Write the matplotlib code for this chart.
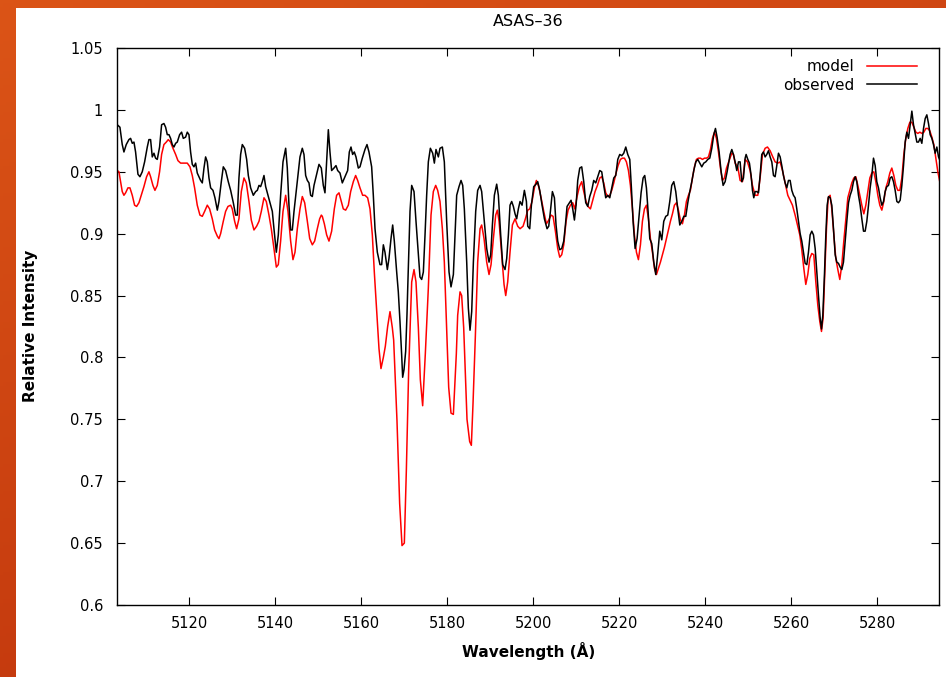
import numpy as np
import matplotlib
matplotlib.use('Agg')
import matplotlib.pyplot as plt
from matplotlib.patches import Rectangle

# observed spectrum (black)
obs_wavelength = [
    5103.26, 5103.88, 5104.42, 5104.81, 5105.35, 5105.97, 5106.36, 5106.75, 5107.14, 5107.52,
    5108.07, 5108.53, 5109.07, 5109.62, 5110.24, 5110.62, 5111.01, 5111.40, 5111.79, 5112.17,
    5112.56, 5113.10, 5113.57, 5114.11, 5114.50, 5114.89, 5115.28, 5115.66, 5116.05, 5116.44,
    5116.83, 5117.21, 5117.76, 5118.22, 5118.61, 5119.15, 5119.54, 5119.93, 5120.31, 5120.70,
    5121.09, 5121.48, 5121.86, 5122.25, 5122.64, 5123.03, 5123.42, 5123.80, 5124.19, 5124.58,
    5124.97, 5125.51, 5125.97, 5126.52, 5126.90, 5127.45, 5127.91, 5128.45, 5129.07, 5129.62,
    5130.24, 5130.78, 5131.17, 5131.55, 5131.94, 5132.33, 5132.87, 5133.34, 5133.73, 5134.27,
    5134.89, 5135.43, 5135.82, 5136.21, 5136.59, 5136.98, 5137.37, 5137.76, 5138.30, 5138.92,
    5139.31, 5139.69, 5140.24, 5140.70, 5141.24, 5141.79, 5142.41, 5142.79, 5143.18, 5143.57,
    5143.96, 5144.35, 5145.12, 5145.74, 5146.28, 5146.67, 5147.06, 5147.45, 5147.83, 5148.22,
    5148.61, 5149.00, 5149.54, 5150.16, 5150.70,
    5151.16, 5151.55, 5151.94, 5152.33, 5152.71, 5153.10, 5153.64, 5154.11, 5154.50, 5155.04,
    5155.58, 5156.20, 5156.82, 5157.21, 5157.60, 5157.98, 5158.37, 5158.76, 5159.30, 5159.69,
    5160.23, 5160.85, 5161.32, 5161.78, 5162.40, 5162.79, 5163.18, 5163.72, 5164.34, 5164.73,
    5165.12, 5165.50, 5166.05, 5166.43, 5166.90, 5167.29, 5167.67, 5168.22, 5168.60, 5168.99,
    5169.38, 5169.61, 5169.92, 5170.31, 5170.62, 5170.78, 5171.32, 5171.71, 5172.25, 5172.71,
    5173.26, 5173.64, 5174.03, 5174.42, 5174.81, 5175.19, 5175.58, 5176.05, 5176.59, 5176.98,
    5177.36, 5177.91, 5178.29, 5178.84, 5179.30, 5179.84, 5180.39, 5180.85, 5181.40, 5181.78,
    5182.17, 5182.71, 5183.18, 5183.57, 5183.95, 5184.50, 5184.88, 5185.27, 5185.66, 5186.05,
    5186.59, 5187.05, 5187.60, 5187.98, 5188.53, 5189.15, 5189.69, 5190.08, 5190.47, 5190.93,
    5191.47, 5191.86, 5192.40, 5192.87, 5193.41, 5193.80, 5194.19, 5194.57, 5194.96, 5195.35,
    5195.74, 5196.12, 5196.51, 5196.90,
    5197.37, 5197.91, 5198.38, 5198.69, 5199.15, 5199.54, 5200.08, 5200.62, 5201.01, 5201.48,
    5202.02, 5202.56, 5203.18, 5203.57, 5203.96, 5204.42, 5204.89, 5205.27, 5205.66, 5206.13,
    5206.59, 5207.06, 5207.45, 5207.83, 5208.38, 5208.76, 5209.15, 5209.54, 5209.93, 5210.31,
    5210.78, 5211.24, 5211.71, 5212.17, 5212.64, 5213.10, 5213.57, 5214.03, 5214.50, 5214.96,
    5215.43, 5215.89, 5216.36, 5216.82, 5217.29, 5217.76, 5218.22, 5218.69, 5219.15, 5219.62,
    5220.08, 5220.55, 5221.01, 5221.48, 5221.94, 5222.41, 5222.79, 5223.18, 5223.65, 5224.11,
    5224.58, 5225.04, 5225.51, 5225.89, 5226.28, 5226.67, 5227.06, 5227.52, 5227.99, 5228.45,
    5228.92, 5229.38, 5229.85, 5230.31, 5230.78, 5231.24, 5231.71, 5232.17, 5232.64, 5233.10,
    5233.57, 5234.04, 5234.50, 5234.97, 5235.43, 5235.90, 5236.36, 5236.83, 5237.29, 5237.76,
    5238.22, 5238.69, 5239.15, 5239.62, 5240.08, 5240.55, 5241.01, 5241.48, 5241.94, 5242.33,
    5242.71, 5243.18, 5243.65, 5244.11, 5244.58, 5245.04,
    5245.74, 5246.13, 5246.51, 5246.90, 5247.29, 5247.68, 5248.06, 5248.45, 5248.84, 5249.23,
    5249.46, 5249.85, 5250.23, 5250.62, 5250.93, 5251.24, 5251.55, 5251.94, 5252.33, 5252.71,
    5253.10, 5253.49, 5253.88, 5254.26, 5254.65, 5255.04, 5255.43, 5255.82, 5256.20, 5256.59,
    5256.98, 5257.37, 5257.75, 5258.14, 5258.53, 5258.92, 5259.30, 5259.69, 5260.08, 5260.47,
    5260.85, 5261.24, 5261.63, 5262.02, 5262.40, 5262.79, 5263.18, 5263.57, 5263.95, 5264.34,
    5264.73, 5265.12, 5265.51, 5265.89, 5266.28, 5266.67, 5266.98, 5267.29, 5267.67, 5267.99,
    5268.30, 5268.61, 5268.99, 5269.38, 5269.77, 5270.16, 5270.54, 5270.93, 5271.32, 5271.71,
    5272.09, 5272.48, 5272.87, 5273.26, 5273.64, 5274.03, 5274.42, 5274.81, 5275.19, 5275.58,
    5275.97, 5276.36, 5276.75, 5277.13, 5277.52, 5277.91, 5278.29, 5278.68, 5279.07, 5279.46,
    5279.84, 5280.23, 5280.62, 5281.01, 5281.40, 5281.78, 5282.17, 5282.56, 5282.95, 5283.33,
    5283.72, 5284.11, 5284.50, 5284.88, 5285.27, 5285.66, 5286.05, 5286.43, 5286.82, 5287.21,
    5287.60, 5287.99, 5288.37, 5288.76, 5289.15, 5289.53, 5289.92, 5290.31, 5290.70, 5291.09,
    5291.47, 5291.86, 5292.25, 5292.64, 5293.02, 5293.41, 5293.80, 5294.19, 5294.65,
]
obs_intensity = [
    0.988, 0.986, 0.972, 0.966, 0.972, 0.976, 0.977, 0.973, 0.974, 0.966,
    0.948, 0.946, 0.950, 0.958, 0.970, 0.976, 0.976, 0.962, 0.965, 0.961,
    0.960, 0.970, 0.988, 0.989, 0.986, 0.980, 0.980, 0.977, 0.972, 0.970,
    0.973, 0.974, 0.980, 0.982, 0.977, 0.978, 0.982, 0.980, 0.966, 0.956,
    0.954, 0.957, 0.949, 0.946, 0.943, 0.941, 0.953, 0.962, 0.958, 0.945,
    0.937, 0.935, 0.929, 0.919, 0.926, 0.942, 0.954, 0.951, 0.942, 0.935,
    0.925, 0.915, 0.915, 0.945, 0.964, 0.972, 0.969, 0.960, 0.947, 0.937,
    0.931, 0.934, 0.935, 0.939, 0.938, 0.942, 0.947, 0.938, 0.931, 0.923,
    0.918, 0.904, 0.885, 0.899, 0.931, 0.958, 0.969, 0.953, 0.923, 0.903,
    0.903, 0.918, 0.942, 0.962, 0.969, 0.964, 0.947, 0.943, 0.941, 0.931,
    0.930, 0.939, 0.947, 0.956, 0.953,
    0.939, 0.933, 0.958, 0.984, 0.966, 0.951, 0.953, 0.955, 0.951, 0.949,
    0.941, 0.946, 0.951, 0.966, 0.970, 0.964, 0.966, 0.962, 0.953, 0.954,
    0.961, 0.968, 0.972, 0.966, 0.954, 0.931, 0.904, 0.885, 0.875, 0.875,
    0.891, 0.885, 0.871, 0.880, 0.896, 0.907, 0.894, 0.869, 0.853, 0.829,
    0.802, 0.784, 0.790, 0.805, 0.835, 0.855, 0.918, 0.939, 0.934, 0.910,
    0.883, 0.865, 0.863, 0.869, 0.899, 0.931, 0.958, 0.969, 0.965, 0.957,
    0.968, 0.962, 0.969, 0.970, 0.958, 0.910, 0.869, 0.857, 0.867, 0.899,
    0.931, 0.938, 0.943, 0.939, 0.920, 0.877, 0.840, 0.822, 0.837, 0.877,
    0.918, 0.935, 0.939, 0.934, 0.912, 0.888, 0.877, 0.883, 0.907, 0.931,
    0.940, 0.931, 0.899, 0.875, 0.871, 0.880, 0.899, 0.923, 0.926, 0.922,
    0.916, 0.912, 0.920, 0.926,
    0.923, 0.935, 0.926, 0.906, 0.904, 0.923, 0.938, 0.940, 0.942, 0.935,
    0.923, 0.912, 0.904, 0.906, 0.918, 0.934, 0.929, 0.907, 0.894, 0.887,
    0.888, 0.894, 0.907, 0.922, 0.925, 0.927, 0.920, 0.911, 0.923, 0.943,
    0.953, 0.954, 0.942, 0.925, 0.922, 0.930, 0.935, 0.943, 0.941, 0.946,
    0.951, 0.950, 0.939, 0.929, 0.931, 0.929, 0.937, 0.945, 0.947, 0.960,
    0.964, 0.963, 0.965, 0.970, 0.964, 0.960, 0.937, 0.910, 0.888, 0.896,
    0.915, 0.933, 0.945, 0.947, 0.937, 0.918, 0.896, 0.892, 0.877, 0.867,
    0.884, 0.902, 0.895, 0.910, 0.914, 0.915, 0.926, 0.939, 0.942, 0.934,
    0.920, 0.907, 0.910, 0.914, 0.914, 0.925, 0.934, 0.942, 0.951, 0.958,
    0.960, 0.957, 0.954, 0.957, 0.958, 0.960, 0.961, 0.969, 0.980, 0.985,
    0.978, 0.966, 0.950, 0.939, 0.942, 0.950,
    0.964, 0.968, 0.964, 0.958, 0.951, 0.958, 0.958, 0.942, 0.945, 0.961,
    0.964, 0.960, 0.957, 0.947, 0.935, 0.929, 0.934, 0.934, 0.933, 0.947,
    0.964, 0.966, 0.962, 0.964, 0.967, 0.962, 0.958, 0.947, 0.946, 0.955,
    0.965, 0.962, 0.955, 0.947, 0.941, 0.937, 0.943, 0.943, 0.935, 0.931,
    0.929, 0.920, 0.910, 0.900, 0.894, 0.885, 0.876, 0.875, 0.885, 0.899,
    0.902, 0.899, 0.888, 0.869, 0.850, 0.832, 0.823, 0.834, 0.867, 0.899,
    0.923, 0.930, 0.929, 0.923, 0.904, 0.883, 0.877, 0.876, 0.873, 0.871,
    0.877, 0.894, 0.910, 0.925, 0.931, 0.935, 0.942, 0.946, 0.942, 0.931,
    0.923, 0.912, 0.902, 0.902, 0.910, 0.923, 0.937, 0.947, 0.961, 0.955,
    0.942, 0.937, 0.929, 0.923, 0.926, 0.934, 0.938, 0.939, 0.945, 0.946,
    0.942, 0.935, 0.926, 0.925, 0.927, 0.939, 0.955, 0.974, 0.982, 0.977,
    0.988, 0.999, 0.988, 0.981, 0.974, 0.974, 0.977, 0.973, 0.985, 0.993,
    0.996, 0.989, 0.980, 0.977, 0.972, 0.965, 0.970, 0.962, 0.958,
]

# synthetic model spectrum (red)
model_wavelength = [
    5103.26, 5103.65, 5104.04, 5104.42, 5104.81, 5105.20, 5105.74, 5106.21, 5106.75, 5107.29,
    5107.76, 5108.30, 5108.84, 5109.46, 5110.08, 5110.62, 5111.01, 5111.55, 5112.02, 5112.56,
    5113.10, 5113.57, 5114.11, 5114.66, 5115.12, 5115.66, 5116.21, 5116.83, 5117.37, 5117.99,
    5118.76, 5119.54, 5120.16, 5120.70, 5121.24, 5121.86, 5122.48, 5123.03, 5123.57, 5124.19,
    5124.73, 5125.35, 5125.90, 5126.52, 5126.90, 5127.29, 5127.91, 5128.45, 5129.00, 5129.62,
    5130.00, 5130.55, 5131.01, 5131.55, 5132.10, 5132.72, 5133.26, 5133.88, 5134.42, 5135.04,
    5135.66, 5136.21, 5136.75, 5137.37, 5137.91, 5138.53, 5139.07, 5139.69, 5140.24, 5140.70,
    5141.24, 5141.79, 5142.41, 5142.95, 5143.57, 5144.11, 5144.58, 5145.12, 5145.74, 5146.28,
    5146.83, 5147.45, 5148.00, 5148.61, 5149.15, 5149.77, 5150.31, 5150.70,
    5150.93, 5151.40, 5151.94, 5152.48, 5153.10, 5153.72, 5154.26, 5154.81, 5155.27, 5155.81,
    5156.36, 5156.98, 5157.52, 5158.14, 5158.68, 5159.15, 5159.69, 5160.31, 5160.85, 5161.47,
    5162.02, 5162.56, 5163.02, 5163.57, 5164.11, 5164.57, 5165.12, 5165.58, 5166.12, 5166.67,
    5167.21, 5167.52, 5168.29, 5168.91, 5169.46, 5170.00, 5170.47, 5171.01, 5171.71, 5172.25,
    5172.71, 5173.26, 5173.72, 5174.26, 5174.88, 5175.58, 5176.20, 5176.74, 5177.29, 5177.75,
    5178.29, 5178.84, 5179.30, 5179.69, 5180.08, 5180.31, 5180.85, 5181.40, 5182.09, 5182.40,
    5182.95, 5183.33, 5183.80, 5184.57, 5185.19, 5185.58, 5185.97, 5186.51, 5187.05, 5187.60,
    5187.98, 5188.53, 5189.15, 5189.69, 5190.16, 5190.70, 5191.24, 5191.63, 5192.02, 5192.64,
    5193.18, 5193.57, 5194.03, 5194.57, 5195.12, 5195.74, 5196.36, 5196.90,
    5197.60, 5198.14, 5198.69, 5199.15, 5199.69, 5200.24, 5200.70, 5201.24, 5201.79, 5202.41,
    5203.03, 5203.57, 5204.11, 5204.58, 5205.12, 5205.66, 5206.13, 5206.59, 5207.06, 5207.60,
    5208.07, 5208.61, 5209.15, 5209.62, 5210.16, 5210.70, 5211.24, 5211.71, 5212.25, 5212.72,
    5213.26, 5213.80, 5214.34, 5214.89, 5215.43, 5215.89, 5216.36, 5216.82, 5217.29, 5217.76,
    5218.22, 5218.69, 5219.23, 5219.69, 5220.24, 5220.70, 5221.17, 5221.63, 5222.10, 5222.56,
    5223.03, 5223.49, 5223.96, 5224.42, 5224.89, 5225.35, 5225.82, 5226.28, 5226.75, 5227.21,
    5227.68, 5228.14, 5228.61, 5229.07, 5229.54, 5230.00, 5230.47, 5230.93, 5231.40, 5231.86,
    5232.33, 5232.79, 5233.26, 5233.72, 5234.19, 5234.65, 5235.12, 5235.58, 5236.05, 5236.51,
    5236.98, 5237.45, 5237.91, 5238.38, 5238.84, 5239.31, 5239.77, 5240.24, 5240.70, 5241.17,
    5241.63, 5242.10, 5242.56, 5243.03, 5243.49, 5243.96, 5244.42, 5244.89,
    5246.13, 5246.51, 5246.90, 5247.52, 5248.06, 5248.61, 5249.23, 5249.77, 5250.39, 5250.93,
    5251.55, 5252.17, 5252.71, 5253.26, 5253.88, 5254.42, 5255.04, 5255.66, 5256.20, 5256.82,
    5257.37, 5257.91, 5258.53, 5259.15, 5259.69, 5260.23, 5260.85, 5261.40, 5261.94, 5262.40,
    5262.87, 5263.33, 5263.80, 5264.26, 5264.73, 5265.19, 5265.66, 5266.13, 5266.59, 5266.98,
    5267.36, 5267.75, 5268.14, 5268.53, 5268.99, 5269.38, 5269.85, 5270.31, 5270.78, 5271.24,
    5271.71, 5272.17, 5272.64, 5273.10, 5273.57, 5274.03, 5274.50, 5274.96, 5275.43, 5275.89,
    5276.36, 5276.82, 5277.29, 5277.75, 5278.22, 5278.68, 5279.15, 5279.61, 5280.08, 5280.54,
    5281.01, 5281.47, 5281.94, 5282.40, 5282.87, 5283.33, 5283.80, 5284.26, 5284.73, 5285.19,
    5285.66, 5286.12, 5286.59, 5287.05, 5287.52, 5287.99, 5288.45, 5288.92, 5289.38, 5289.85,
    5290.31, 5290.78, 5291.24, 5291.71, 5292.17, 5292.64, 5293.10, 5293.57, 5294.03, 5294.65,
]
model_intensity = [
    0.951, 0.950, 0.942, 0.934, 0.931, 0.933, 0.937, 0.937, 0.931, 0.923,
    0.922, 0.925, 0.931, 0.938, 0.946, 0.950, 0.946, 0.939, 0.935, 0.939,
    0.950, 0.964, 0.972, 0.974, 0.976, 0.974, 0.969, 0.964, 0.959, 0.957,
    0.957, 0.957, 0.954, 0.947, 0.937, 0.923, 0.915, 0.914, 0.918, 0.923,
    0.920, 0.912, 0.903, 0.898, 0.896, 0.900, 0.910, 0.918, 0.922, 0.923,
    0.920, 0.910, 0.904, 0.912, 0.934, 0.945, 0.941, 0.926, 0.911, 0.903,
    0.906, 0.910, 0.918, 0.929, 0.926, 0.915, 0.904, 0.888, 0.873, 0.875,
    0.894, 0.918, 0.931, 0.918, 0.894, 0.879, 0.885, 0.904, 0.920, 0.930,
    0.925, 0.910, 0.896, 0.891, 0.894, 0.904, 0.912, 0.915,
    0.914, 0.908, 0.899, 0.894, 0.902, 0.920, 0.931, 0.933, 0.927, 0.920,
    0.919, 0.923, 0.934, 0.942, 0.947, 0.943, 0.937, 0.931, 0.931, 0.929,
    0.920, 0.899, 0.869, 0.837, 0.807, 0.791, 0.800, 0.809, 0.825, 0.837,
    0.824, 0.814, 0.749, 0.682, 0.648, 0.650, 0.709, 0.790, 0.861, 0.871,
    0.861, 0.824, 0.782, 0.761, 0.803, 0.856, 0.915, 0.934, 0.939, 0.935,
    0.926, 0.904, 0.877, 0.837, 0.797, 0.776, 0.755, 0.754, 0.803, 0.834,
    0.853, 0.850, 0.824, 0.750, 0.732, 0.729, 0.763, 0.817, 0.877, 0.904,
    0.907, 0.896, 0.877, 0.867, 0.875, 0.896, 0.915, 0.919, 0.910, 0.883,
    0.859, 0.850, 0.861, 0.885, 0.907, 0.912, 0.906, 0.904,
    0.906, 0.912, 0.919, 0.920, 0.926, 0.937, 0.943, 0.938, 0.929, 0.918,
    0.908, 0.911, 0.915, 0.914, 0.902, 0.888, 0.881, 0.883, 0.891, 0.910,
    0.919, 0.923, 0.925, 0.920, 0.930, 0.938, 0.942, 0.934, 0.926, 0.922,
    0.920, 0.927, 0.934, 0.939, 0.945, 0.946, 0.941, 0.933, 0.930, 0.931,
    0.935, 0.941, 0.949, 0.955, 0.960, 0.961, 0.961, 0.958, 0.951, 0.939,
    0.920, 0.899, 0.885, 0.879, 0.891, 0.910, 0.920, 0.923, 0.912, 0.896,
    0.885, 0.872, 0.867, 0.872, 0.877, 0.883, 0.889, 0.896, 0.903, 0.910,
    0.916, 0.923, 0.925, 0.919, 0.911, 0.908, 0.915, 0.926, 0.931, 0.935,
    0.945, 0.954, 0.960, 0.961, 0.961, 0.960, 0.961, 0.961, 0.962, 0.968,
    0.977, 0.982, 0.977, 0.966, 0.953, 0.943, 0.945, 0.953,
    0.965, 0.964, 0.957, 0.954, 0.943, 0.942, 0.960, 0.958, 0.951, 0.939,
    0.931, 0.931, 0.945, 0.964, 0.969, 0.970, 0.967, 0.962, 0.958, 0.957,
    0.958, 0.951, 0.941, 0.931, 0.927, 0.923, 0.915, 0.907, 0.899, 0.887,
    0.872, 0.859, 0.867, 0.880, 0.884, 0.883, 0.861, 0.842, 0.829, 0.821,
    0.832, 0.867, 0.904, 0.929, 0.931, 0.920, 0.899, 0.880, 0.871, 0.863,
    0.875, 0.894, 0.912, 0.929, 0.935, 0.941, 0.945, 0.946, 0.939, 0.931,
    0.923, 0.916, 0.923, 0.934, 0.945, 0.949, 0.950, 0.942, 0.931, 0.923,
    0.919, 0.926, 0.937, 0.942, 0.949, 0.953, 0.947, 0.939, 0.935, 0.935,
    0.945, 0.964, 0.977, 0.985, 0.990, 0.990, 0.986, 0.982, 0.981, 0.982,
    0.981, 0.982, 0.985, 0.985, 0.983, 0.978, 0.972, 0.961, 0.950, 0.939,
]

xticks = [5120, 5140, 5160, 5180, 5200, 5220, 5240, 5260, 5280]
yticks = [0.6, 0.65, 0.7, 0.75, 0.8, 0.85, 0.9, 0.95, 1.0, 1.05]
ytick_labels = ['0.6', '0.65', '0.7', '0.75', '0.8', '0.85', '0.9', '0.95', '1', '1.05']

plt.rcParams['font.family'] = ['DejaVu Sans']

W, H = 946, 677
fig = plt.figure(figsize=(W / 100, H / 100), dpi=100)

# slide backdrop: orange-red band on the left and top, white panel
bg = fig.add_axes([0, 0, 1, 1], zorder=-10)
gy, gx = np.mgrid[0:1:200j, 0:1:300j]
t = np.clip(0.65 * gy + 0.35 * gx, 0, 1)[..., None]
c_top = np.array([0.86, 0.33, 0.09])
c_bot = np.array([0.73, 0.18, 0.04])
bg.imshow(c_top + (c_bot - c_top) * t, extent=[0, 1, 0, 1], aspect='auto', origin='upper')
bg.add_patch(Rectangle((16 / W, 0), 1, 1 - 8 / H, color='white', lw=0))
bg.set_xlim(0, 1)
bg.set_ylim(0, 1)
bg.axis('off')

ax = fig.add_axes([117 / W, 72 / H, 822 / W, 557 / H])
ax.plot(model_wavelength, model_intensity, color='#ff0000', lw=1.1, label='model')
ax.plot(obs_wavelength, obs_intensity, color='black', lw=1.1, label='observed')

ax.set_xlim(5103.2, 5294.3)
ax.set_ylim(0.6, 1.05)
ax.set_xticks(xticks)
ax.set_yticks(yticks)
ax.set_yticklabels(ytick_labels)
ax.tick_params(direction='in', top=True, right=True, length=6, width=0.8,
               labelsize=10.5, colors='black')
ax.tick_params(axis='y', pad=10)
ax.tick_params(axis='x', pad=8)
for s in ax.spines.values():
    s.set_linewidth(1.0)

leg = ax.legend(loc='upper right', bbox_to_anchor=(1 - 22 / 822, 1 - 11 / 557),
                frameon=False, markerfirst=False, fontsize=11, handlelength=3.3,
                handletextpad=0.8, labelspacing=0.25, borderaxespad=0, borderpad=0)
for txt in leg.get_texts():
    txt.set_ha('right')

fig.text(528 / W, 1 - 22 / H, 'ASAS\u201336', ha='center', va='center', fontsize=11.5)
fig.text(529 / W, 1 - 651 / H, 'Wavelength (\u00c5)', ha='center', va='center',
         fontsize=11, fontweight='bold')
fig.text(30 / W, 1 - 326 / H, 'Relative Intensity', ha='center', va='center',
         rotation=90, fontsize=11, fontweight='bold')

fig.savefig('out.png', dpi=100)
